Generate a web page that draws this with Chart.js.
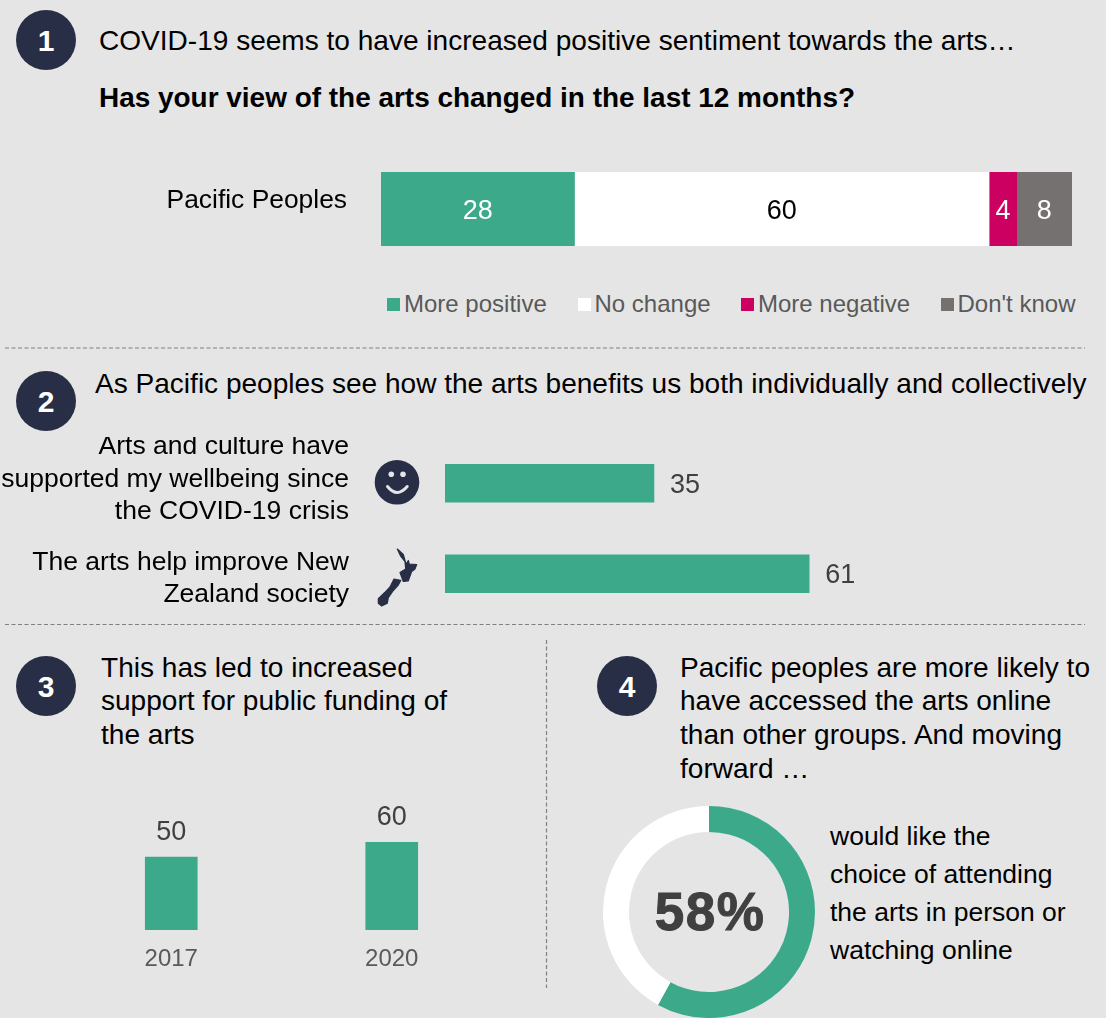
<!DOCTYPE html>
<html lang="en">
<head>
    <meta charset="UTF-8">
    <title>Pacific Peoples arts sentiment</title>
    <script src="https://cdn.jsdelivr.net/npm/chart.js"></script>
    <style>
        html, body { margin: 0; padding: 0; }
        body { position: relative; width: 1106px; height: 1018px; overflow: hidden; background: #e5e5e5;
               font-family: "Liberation Sans", Arial, sans-serif; color: #000; }
        canvas, svg, .txt, .num, .key { position: absolute; }
        .txt { font-size: 28.05px; line-height: 33.5px; white-space: nowrap; }
        .num { width: 60px; height: 60px; border-radius: 50%; background: #282e45; color: #fff;
               font-weight: bold; font-size: 30px; line-height: 61px; text-align: center; }
        .key { font-size: 24px; line-height: 28px; color: #595959; white-space: nowrap; }
        .key i { position: absolute; left: -17px; top: 8px; width: 13px; height: 13px; }
    </style>
</head>
<body>
    <!-- section numbers -->
    <div class="num" style="left:16px;top:10px">1</div>
    <div class="num" style="left:16px;top:371px">2</div>
    <div class="num" style="left:16px;top:656px">3</div>
    <div class="num" style="left:597px;top:656px">4</div>

    <!-- headings -->
    <div class="txt" style="left:99px;top:24px">COVID-19 seems to have increased positive sentiment towards the arts…</div>
    <div class="txt" style="left:99px;top:81px;font-weight:bold;font-size:27.95px">Has your view of the arts changed in the last 12 months?</div>
    <div class="txt" style="left:95px;top:367px">As Pacific peoples see how the arts benefits us both individually and collectively</div>
    <div class="txt" style="left:101px;top:650.6px">This has led to increased<br>support for public funding of<br>the arts</div>
    <div class="txt" style="left:680px;top:650.6px;line-height:33.7px">Pacific peoples are more likely to<br>have accessed the arts online<br>than other groups. And moving<br>forward …</div>
    <div class="txt" style="left:830px;top:817px;line-height:38px;font-size:26.5px">would like the<br>choice of attending<br>the arts in person or<br>watching online</div>

    <!-- dashed separators and the two icons -->
    <svg style="left:0;top:0" width="1106" height="1018">
        <g stroke="#808080" stroke-width="1.2" stroke-dasharray="4 2.5" fill="none">
            <line x1="5" y1="348" x2="1085" y2="348"/>
            <line x1="5" y1="624.5" x2="1085" y2="624.5"/>
            <line x1="546.5" y1="640" x2="546.5" y2="988"/>
        </g>
        <circle cx="397" cy="482.3" r="22.3" fill="#282e45"/>
        <circle cx="391.3" cy="474.3" r="2.8" fill="#e5e5e5"/>
        <circle cx="403" cy="474.3" r="2.8" fill="#e5e5e5"/>
        <path d="M387.5 486.5 Q397 498.5 407.2 486.5" stroke="#e5e5e5" stroke-width="3" fill="none" stroke-linecap="round"/>
        <path fill="#282e45" stroke="#282e45" stroke-width="1.2" stroke-linejoin="round" d="M397.3 549 L403.3 554.4 L406 564.2 L408.3 560.5 L409.3 564.2 L416.7 564.5 L415 568.9 L411.7 571.4 L408.3 580.8 L403.3 581.5 L400 572.5 L405.7 568.9 L405 561.6 L400.7 556.2 Z
                               M394 579 L400.7 580.4 L398.3 585.1 L393.3 590.5 L388.3 597.7 L387.3 603.2 L381.7 606 L378.3 603.2 L378.3 598.8 L385 592.3 L390 586.9 Z"/>
    </svg>

    <!-- legend for the first chart, filled in below -->
    <div id="legendBox"></div>

    <canvas id="viewChart" width="1106" height="74" style="left:0;top:172px"></canvas>
    <canvas id="benefitChart" width="1106" height="182" style="left:0;top:437px"></canvas>
    <canvas id="fundingChart" width="441" height="186" style="left:61px;top:784px"></canvas>
    <canvas id="onlineChart" width="212" height="212" style="left:603px;top:806px"></canvas>
    <div class="txt" style="left:610px;top:883px;width:200px;text-align:center;font-weight:bold;font-size:53px;line-height:58px;letter-spacing:1.5px;color:#404040;-webkit-text-stroke:1px #404040">58%</div>

<script>
    // chart 1: has your view changed
    const viewCategories = ['Pacific Peoples'];
    const viewSeries = ['More positive', 'No change', 'More negative', "Don't know"];
    const viewValues = [28, 60, 4, 8];
    const viewColors = ['#3caa8a', '#ffffff', '#cc0060', '#767171'];
    const viewLabelColors = ['#ffffff', '#000000', '#ffffff', '#ffffff'];
    const legendLefts = [404, 594.5, 758, 957.5];

    // chart 2: benefits
    const benefitCategories = [
        ['Arts and culture have', 'supported my wellbeing since', 'the COVID-19 crisis'],
        ['The arts help improve New', 'Zealand society']
    ];
    const benefitValues = [35, 61];

    // chart 3: public funding
    const fundingYears = ['2017', '2020'];
    const fundingValues = [50, 60];

    // chart 4: attending or watching online
    const onlineValues = [58, 42];

    const green = '#3caa8a';
    const fontFamily = '"Liberation Sans", Arial, sans-serif';
    Chart.defaults.font.family = fontFamily;
    Chart.defaults.animation = false;
    Chart.defaults.responsive = false;
    Chart.defaults.plugins.legend.display = false;
    Chart.defaults.plugins.tooltip.enabled = false;

    // draws the number on each bar, no datalabels plugin available
    const barNumbers = {
        id: 'barNumbers',
        afterDatasetsDraw(chart, args, opts) {
            if (!opts.position) return;
            const ctx = chart.ctx;
            ctx.save();
            ctx.font = opts.size + 'px ' + fontFamily;
            chart.data.datasets.forEach((ds, d) => {
                chart.getDatasetMeta(d).data.forEach((bar, i) => {
                    const props = bar.getProps(['x', 'y', 'base', 'width', 'height'], true);
                    ctx.fillStyle = opts.colors ? opts.colors[d] : opts.color;
                    if (opts.position === 'center') {
                        ctx.textAlign = 'center';
                        ctx.textBaseline = 'middle';
                        ctx.fillText(ds.data[i], (props.x + props.base) / 2, props.y + 3);
                    } else if (opts.position === 'right') {
                        ctx.textAlign = 'left';
                        ctx.textBaseline = 'middle';
                        ctx.fillText(ds.data[i], props.x + 16, props.y + 2);
                    } else {
                        ctx.textAlign = 'center';
                        ctx.textBaseline = 'bottom';
                        ctx.fillText(ds.data[i], props.x, props.y - 11);
                    }
                });
            });
            ctx.restore();
        }
    };

    // the category labels of chart 2 are not centred on their bars, nudge each one
    const nudgeLabels = {
        id: 'nudgeLabels',
        afterLayout(chart, args, opts) {
            if (!opts.offsets) return;
            chart.scales.y.getLabelItems().forEach((item, i) => {
                item.options.translation[1] += opts.offsets[i];
            });
        }
    };
    Chart.register(barNumbers, nudgeLabels);

    // ticks.padding also gets added above and below a vertical axis, which squashes the plot, so clear it here
    function fixAxisWidth(width) {
        return scale => {
            scale.width = width;
            scale.paddingTop = 0;
            scale.paddingBottom = 0;
        };
    }

    // legend of chart 1
    const legendBox = document.getElementById('legendBox');
    viewSeries.forEach((name, i) => {
        const key = document.createElement('div');
        key.className = 'key';
        key.style.left = legendLefts[i] + 'px';
        key.style.top = '290px';
        key.innerHTML = '<i style="background:' + viewColors[i] + '"></i>' + name;
        legendBox.appendChild(key);
    });

    // first chart
    new Chart(document.getElementById('viewChart'), {
        type: 'bar',
        data: {
            labels: viewCategories,
            datasets: viewSeries.map((name, i) => ({
                label: name,
                data: [viewValues[i]],
                backgroundColor: viewColors[i],
                barThickness: 74
            }))
        },
        options: {
            indexAxis: 'y',
            layout: { padding: { right: 34 } },
            plugins: { barNumbers: { position: 'center', size: 27, colors: viewLabelColors } },
            scales: {
                x: { display: false, stacked: true, min: 0, max: 100 },
                y: {
                    stacked: true,
                    afterFit: fixAxisWidth(381),
                    grid: { display: false, drawTicks: false },
                    border: { display: false },
                    ticks: { color: '#000000', font: { size: 26.4 }, padding: 34, labelOffset: -8 }
                }
            }
        }
    });

    // second chart
    new Chart(document.getElementById('benefitChart'), {
        type: 'bar',
        data: {
            labels: benefitCategories,
            datasets: [{ data: benefitValues, backgroundColor: green, barThickness: 38 }]
        },
        options: {
            indexAxis: 'y',
            layout: { padding: { right: 64, top: 1 } },
            plugins: {
                barNumbers: { position: 'right', size: 27, color: '#404040' },
                nudgeLabels: { offsets: [-4, 5] }
            },
            scales: {
                x: { display: false, min: 0, max: 100 },
                y: {
                    afterFit: fixAxisWidth(445),
                    grid: { display: false, drawTicks: false },
                    border: { display: false },
                    ticks: { color: '#000000', font: { size: 26.5, lineHeight: 1.23 }, padding: 96, autoSkip: false }
                }
            }
        }
    });

    // third chart
    new Chart(document.getElementById('fundingChart'), {
        type: 'bar',
        data: {
            labels: fundingYears,
            datasets: [{ data: fundingValues, backgroundColor: green, barThickness: 52 }]
        },
        options: {
            plugins: { barNumbers: { position: 'top', size: 27, color: '#404040' } },
            scales: {
                x: {
                    afterFit: scale => { scale.height = 40; },
                    grid: { display: false, drawTicks: false },
                    border: { display: false },
                    ticks: { color: '#595959', font: { size: 24 }, padding: 15 }
                },
                y: { display: false, min: 0, max: 100 }
            }
        }
    });

    // fourth chart
    new Chart(document.getElementById('onlineChart'), {
        type: 'doughnut',
        data: {
            labels: ['Yes', 'No'],
            datasets: [{ data: onlineValues, backgroundColor: [green, '#ffffff'], borderWidth: 0 }]
        },
        options: { cutout: '75.5%' }
    });
</script>
</body>
</html>
